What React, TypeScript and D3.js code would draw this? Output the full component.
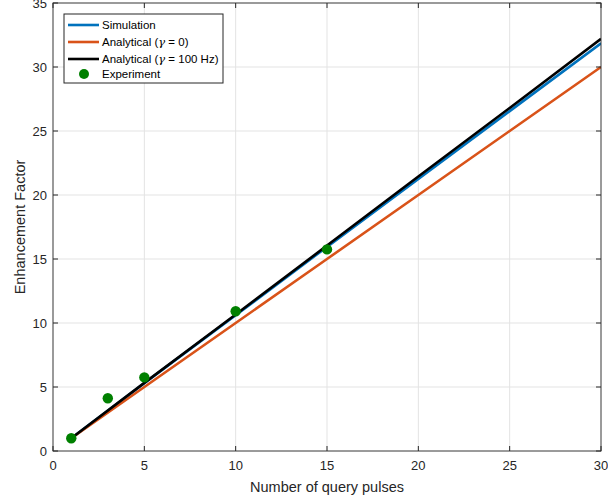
import React from "react";
import * as d3 from "d3";

const pulses = [1, 5, 10, 15, 20, 25, 30];
const simulation = [1, 5.3, 10.6, 15.95, 21.25, 26.55, 31.85];
const analyticalZero = [1, 5, 10, 15, 20, 25, 30];
const analytical100 = [1, 5.32, 10.66, 16.05, 21.45, 26.8, 32.2];
const expPulses = [1, 3, 5, 10, 15];
const expValues = [1.0, 4.12, 5.75, 10.92, 15.75];
const xTicks = [0, 5, 10, 15, 20, 25, 30];
const yTicks = [0, 5, 10, 15, 20, 25, 30, 35];

const W = 608, H = 499;
const L = 53, R = 601, T = 3, B = 451;
const FONT = "'Liberation Sans', Arial, sans-serif";

export default function App() {
  const x = d3.scaleLinear().domain([0, 30]).range([L, R]);
  const y = d3.scaleLinear().domain([0, 35]).range([B, T]);
  const line = d3.line<[number, number]>().x(d => x(d[0])).y(d => y(d[1]));
  const mk = (vals: number[]) => pulses.map((p, i) => [p, vals[i]] as [number, number]);
  const series = [
    { name: "Simulation", vals: simulation, color: "#0072BD" },
    { name: "Analytical0", vals: analyticalZero, color: "#D95319" },
    { name: "Analytical100", vals: analytical100, color: "#000000" },
  ];
  const axisColor = "#262626";
  const legend = [
    { label: <>Simulation</>, color: "#0072BD", type: "line" },
    { label: <>Analytical (<tspan fontStyle="italic" fontFamily="'DejaVu Serif', serif">γ</tspan> = 0)</>, color: "#D95319", type: "line" },
    { label: <>Analytical (<tspan fontStyle="italic" fontFamily="'DejaVu Serif', serif">γ</tspan> = 100 Hz)</>, color: "#000000", type: "line" },
    { label: <>Experiment</>, color: "#008000", type: "dot" },
  ];
  const legendY = [25, 42, 59, 74];
  return (
    <svg width={W} height={H} style={{ position: "absolute", left: 0, top: 0, background: "#fff" }} fontFamily={FONT}>
      <rect x={0} y={0} width={W} height={H} fill="#fff" />
      {/* grid */}
      {xTicks.map(t => (
        <line key={"gx" + t} x1={x(t)} x2={x(t)} y1={T} y2={B} stroke="#e3e3e3" strokeWidth={1} />
      ))}
      {yTicks.map(t => (
        <line key={"gy" + t} x1={L} x2={R} y1={y(t)} y2={y(t)} stroke="#e3e3e3" strokeWidth={1} />
      ))}
      {/* series */}
      <defs>
        <clipPath id="clip"><rect x={L} y={T} width={R - L} height={B - T} /></clipPath>
      </defs>
      <g clipPath="url(#clip)">
        {series.map(s => (
          <path key={s.name} d={line(mk(s.vals)) || ""} fill="none" stroke={s.color} strokeWidth={2.6} />
        ))}
      </g>
      {expPulses.map((p, i) => (
        <circle key={"e" + i} cx={x(p)} cy={y(expValues[i])} r={5.2} fill="#008000" />
      ))}
      {/* box */}
      <rect x={L} y={T} width={R - L} height={B - T} fill="none" stroke={axisColor} strokeWidth={1} opacity={0.85} />
      {xTicks.map(t => (
        <g key={"tx" + t}>
          <line x1={x(t)} x2={x(t)} y1={B} y2={B - 5} stroke={axisColor} />
          <line x1={x(t)} x2={x(t)} y1={T} y2={T + 5} stroke={axisColor} />
          <text x={x(t)} y={B + 19} textAnchor="middle" fontSize={13} fill={axisColor}>{t}</text>
        </g>
      ))}
      {yTicks.map(t => (
        <g key={"ty" + t}>
          <line x1={L} x2={L + 5} y1={y(t)} y2={y(t)} stroke={axisColor} />
          <line x1={R} x2={R - 5} y1={y(t)} y2={y(t)} stroke={axisColor} />
          <text x={L - 6} y={y(t) + 4.5} textAnchor="end" fontSize={13} fill={axisColor}>{t}</text>
        </g>
      ))}
      <text x={(L + R) / 2} y={492} textAnchor="middle" fontSize={14.5} fill={axisColor}>Number of query pulses</text>
      <text transform={`translate(25,${(T + B) / 2}) rotate(-90)`} textAnchor="middle" fontSize={14.5} fill={axisColor}>Enhancement Factor</text>
      {/* legend */}
      <rect x={64} y={14} width={159} height={69} fill="#fff" stroke={axisColor} strokeWidth={1} />
      {legend.map((e, i) => (
        <g key={"l" + i}>
          {e.type === "line" ? (
            <line x1={68} x2={99} y1={legendY[i]} y2={legendY[i]} stroke={e.color} strokeWidth={2.6} />
          ) : (
            <circle cx={84} cy={legendY[i]} r={5} fill={e.color} />
          )}
          <text x={102} y={legendY[i] + 4} fontSize={11.5} fill="#000">{e.label}</text>
        </g>
      ))}
    </svg>
  );
}
